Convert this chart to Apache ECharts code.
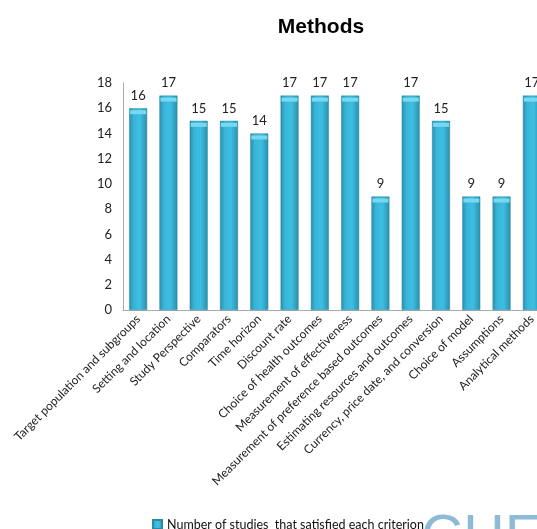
<!DOCTYPE html>
<html><head><meta charset="utf-8">
<script src="https://cdn.jsdelivr.net/npm/echarts@6/dist/echarts.min.js"></script>
<style>html,body{margin:0;padding:0;background:#fff;overflow:hidden;width:537px;height:529px}#c{width:547px;height:529px}</style>
</head><body><div id="c"></div>
<script>
const categories = ["Target population and subgroups","Setting and location","Study Perspective","Comparators","Time horizon","Discount rate","Choice of health outcomes","Measurement of effectiveness","Measurement of preference based outcomes","Estimating resources and outcomes","Currency, price date, and conversion","Choice of model","Assumptions","Analytical methods"];
const values = [16,17,15,15,14,17,17,17,9,17,15,9,9,17];
const seriesName = "Number of studies  that satisfied each criterion";
const yTicks = {min:0, max:18, interval:2};
const FONT = "Lato";
const chart = echarts.init(document.getElementById('c'), null, {renderer:'canvas'});
const barColor = new echarts.graphic.LinearGradient(0,0,1,0,[
  {offset:0,color:'#2a8eab'},{offset:0.25,color:'#38b5d9'},{offset:0.6,color:'#3dbfe2'},{offset:1,color:'#2b8fac'}]);
chart.setOption({
  animation:false,
  title:{text:'Methods',left:316,textAlign:'center',top:12,textStyle:{fontFamily:'Liberation Sans',fontWeight:'bold',fontSize:21,color:'#000'}},
  grid:{left:123,right:0,top:83,bottom:219,containLabel:false},
  legend:{data:[seriesName],left:147,top:513,itemWidth:9,itemHeight:9,itemGap:6,icon:'rect',
    textStyle:{fontFamily:FONT,fontSize:12.5,color:'#111'}},
  xAxis:{type:'category',data:categories,
    axisLine:{lineStyle:{color:'#aaaaaa'}},axisTick:{show:false},
    axisLabel:{rotate:45,interval:0,margin:7,fontFamily:FONT,fontSize:12,color:'#222'}},
  yAxis:{type:'value',min:yTicks.min,max:yTicks.max,interval:yTicks.interval,
    splitLine:{show:false},axisLine:{show:true,lineStyle:{color:'#aaaaaa'}},axisTick:{show:false},
    axisLabel:{margin:11,fontFamily:FONT,fontSize:13,color:'#222'}},
  series:[{type:'bar',name:seriesName,data:values,barWidth:18,
    itemStyle:{color:barColor,borderColor:'#2b8aa4',borderWidth:0.5},
    label:{show:true,position:'top',distance:6,fontFamily:FONT,fontSize:13,color:'#222'}},
    {type:'pictorialBar',name:'cap',data:values,symbol:'rect',symbolPosition:'end',
     symbolSize:[16,4],symbolOffset:[0,2],barGap:'-100%',silent:true,z:5,
     itemStyle:{color:'#78d8f0'}}],
  graphic:[{type:'text',left:421,top:510,silent:true,
    style:{text:'CHE',fontFamily:'Liberation Sans',fontSize:58,fill:'#8fbad6'}}]
});
</script></body></html>
